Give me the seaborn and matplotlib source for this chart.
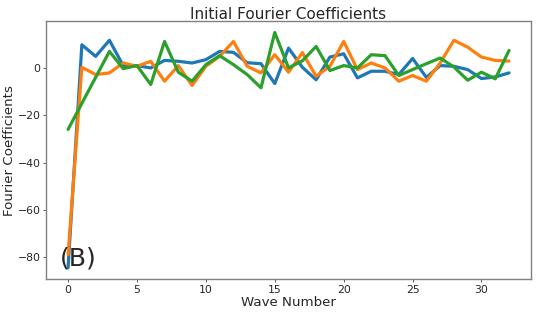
import numpy as np
import pandas as pd
import seaborn as sns
import matplotlib
matplotlib.use("Agg")
import matplotlib.pyplot as plt

# wave numbers 0..32
wave = list(range(33))

# coefficients
coef_a = [-84.5, 9.8, 4.9, 11.7, 1.0, 1.0, 0.0, 3.2, 2.8, 2.1, 3.5, 7.0, 6.6, 2.2, 1.8, -6.6,
          8.4, 0.3, -5.0, 4.6, 6.0, -4.2, -1.4, -1.4, -2.8, 4.0, -4.0, 1.0, 0.7, -0.7,
          -4.5, -3.8, -2.1]
coef_b = [-79.0, 0.3, -2.8, -2.1, 2.1, 0.7, 2.8, -5.6, 1.0, -7.4, 0.7, 4.9, 11.2, 0.7, -2.1, 5.6,
          -1.8, 6.5, -3.5, 0.7, 11.2, -0.7, 2.1, 0.0, -5.6, -3.2, -5.6, 2.1, 11.7, 8.8,
          4.6, 3.2, 2.9]
coef_c = [-26.0, -15.0, -4.0, 7.0, -0.3, 1.0, -7.0, 11.2, -1.8, -5.6, 1.4, 5.2, 1.4, -2.8, -8.4, 15.0,
          0.0, 3.0, 9.1, -1.1, 1.0, 0.0, 5.6, 5.2, -3.2, -0.7, 1.8, 4.2, 0.4, -5.2,
          -1.8, -4.6, 7.4]

df = pd.DataFrame({"wave": wave * 3,
                   "coef": coef_a + coef_b + coef_c,
                   "run": ["a"] * 33 + ["b"] * 33 + ["c"] * 33})

sns.set_style("white")
plt.rcParams["font.family"] = ["DejaVu Sans"]

fig, ax = plt.subplots(figsize=(5.37, 3.14), dpi=100)
sns.lineplot(data=df, x="wave", y="coef", hue="run", palette="tab10",
             linewidth=2.3, legend=False, ax=ax)

ax.set_title("Initial Fourier Coefficients", fontsize=11, pad=1.5)
ax.set_xlabel("Wave Number", fontsize=9.6, labelpad=0.8)
ax.set_ylabel("Fourier Coefficients", fontsize=9.6, labelpad=1.5)
ax.tick_params(axis="both", labelsize=7.8, length=2.5, width=0.7, pad=1.3,
               color="#555555", bottom=True, left=True)
ax.set_xticks([0, 5, 10, 15, 20, 25, 30])
ax.set_yticks([-80, -60, -40, -20, 0])
for s in ax.spines.values():
    s.set_color("#808080")
    s.set_linewidth(1.0)
ax.text(0.028, 0.055, "(B)", transform=ax.transAxes, fontsize=18)

fig.subplots_adjust(left=0.0857, right=0.989, top=0.934, bottom=0.110)
fig.savefig("out.png", dpi=100)
